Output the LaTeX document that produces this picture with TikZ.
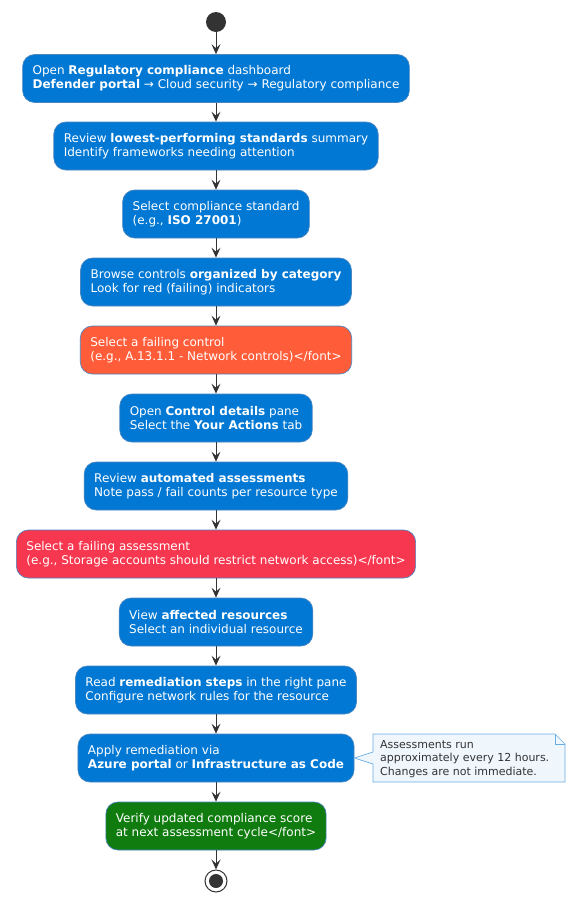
\documentclass[tikz,border=0pt]{standalone}
\usepackage{fontspec}
\setmainfont{DejaVu Sans}
\usetikzlibrary{arrows.meta,positioning}
\definecolor{azure}{HTML}{0078D4}
\definecolor{boxedge}{HTML}{4A86C0}
\definecolor{warnorange}{HTML}{FF5C39}
\definecolor{failred}{HTML}{F7374F}
\definecolor{okgreen}{HTML}{107C10}
\definecolor{notefill}{HTML}{EFF6FC}
\definecolor{noteedge}{HTML}{6AAEE6}
\definecolor{ink}{HTML}{333333}
\tikzset{
  act/.style={draw=boxedge, line width=0.7pt, fill=azure, rounded corners=12pt,
    text=white, align=left, minimum height=48pt, inner xsep=10pt, inner ysep=4pt,
    font=\fontsize{12}{14}\selectfont},
  flow/.style={draw=ink, line width=1pt, -{Stealth[length=10pt,width=9pt,inset=4pt]}},
}
\begin{document}
\begin{tikzpicture}[x=1pt,y=-1pt]
\useasboundingbox (0,0) rectangle (584,911);
\fill[white] (0,0) rectangle (584,911);
\node[circle, fill=ink, minimum size=20pt, inner sep=0pt] (start) at (216,22) {};
\node[act] (a1) at (216,78.5) {Open \textbf{Regulatory compliance} dashboard\\\textbf{Defender portal} → Cloud security → Regulatory compliance};
\node[act] (a2) at (216,146) {Review \textbf{lowest-performing standards} summary\\Identify frameworks needing attention};
\node[act] (a3) at (216,214) {Select compliance standard\\(e.g., \textbf{ISO 27001})};
\node[act] (a4) at (216,282) {Browse controls \textbf{organized by category}\\Look for red (failing) indicators};
\node[act, fill=warnorange] (a5) at (216,350) {Select a failing control\\(e.g., A.13.1.1 - Network controls)</font>};
\node[act] (a6) at (216,418) {Open \textbf{Control details} pane\\Select the \textbf{Your Actions} tab};
\node[act] (a7) at (216,486) {Review \textbf{automated assessments}\\Note pass / fail counts per resource type};
\node[act, fill=failred] (a8) at (216,554) {Select a failing assessment\\(e.g., Storage accounts should restrict network access)</font>};
\node[act] (a9) at (216,622) {View \textbf{affected resources}\\Select an individual resource};
\node[act] (a10) at (216,690) {Read \textbf{remediation steps} in the right pane\\Configure network rules for the resource};
\node[act] (a11) at (216,758) {Apply remediation via\\\textbf{Azure portal} or \textbf{Infrastructure as Code}};
\node[act, fill=okgreen] (a12) at (216,826) {Verify updated compliance score\\at next assessment cycle</font>};
\node[circle, draw=ink, line width=1pt, fill=white, minimum size=22pt, inner sep=0pt] (stop) at (216,881) {};
\fill[ink] (stop.center) circle (7pt);
% note
\draw[noteedge, line width=0.7pt, fill=notefill]
  (373,734) -- (555,734) -- (565,744) -- (565,782) -- (373,782) -- (373,764)
  -- (a11.east) -- (373,752) -- cycle;
\draw[noteedge, line width=0.7pt] (555,734) -- (555,744) -- (565,744);
\node[anchor=north west, align=left, text=ink, inner sep=0pt,
  font=\fontsize{11}{13.5}\selectfont] (note) at (380,740)
  {Assessments run\\approximately every 12 hours.\\Changes are not immediate.};
\foreach \p/\q in {start/a1,a1/a2,a2/a3,a3/a4,a4/a5,a5/a6,a6/a7,a7/a8,a8/a9,a9/a10,a10/a11,a11/a12,a12/stop}
  \draw[flow] (\p) -- (\q);
\end{tikzpicture}
\end{document}
